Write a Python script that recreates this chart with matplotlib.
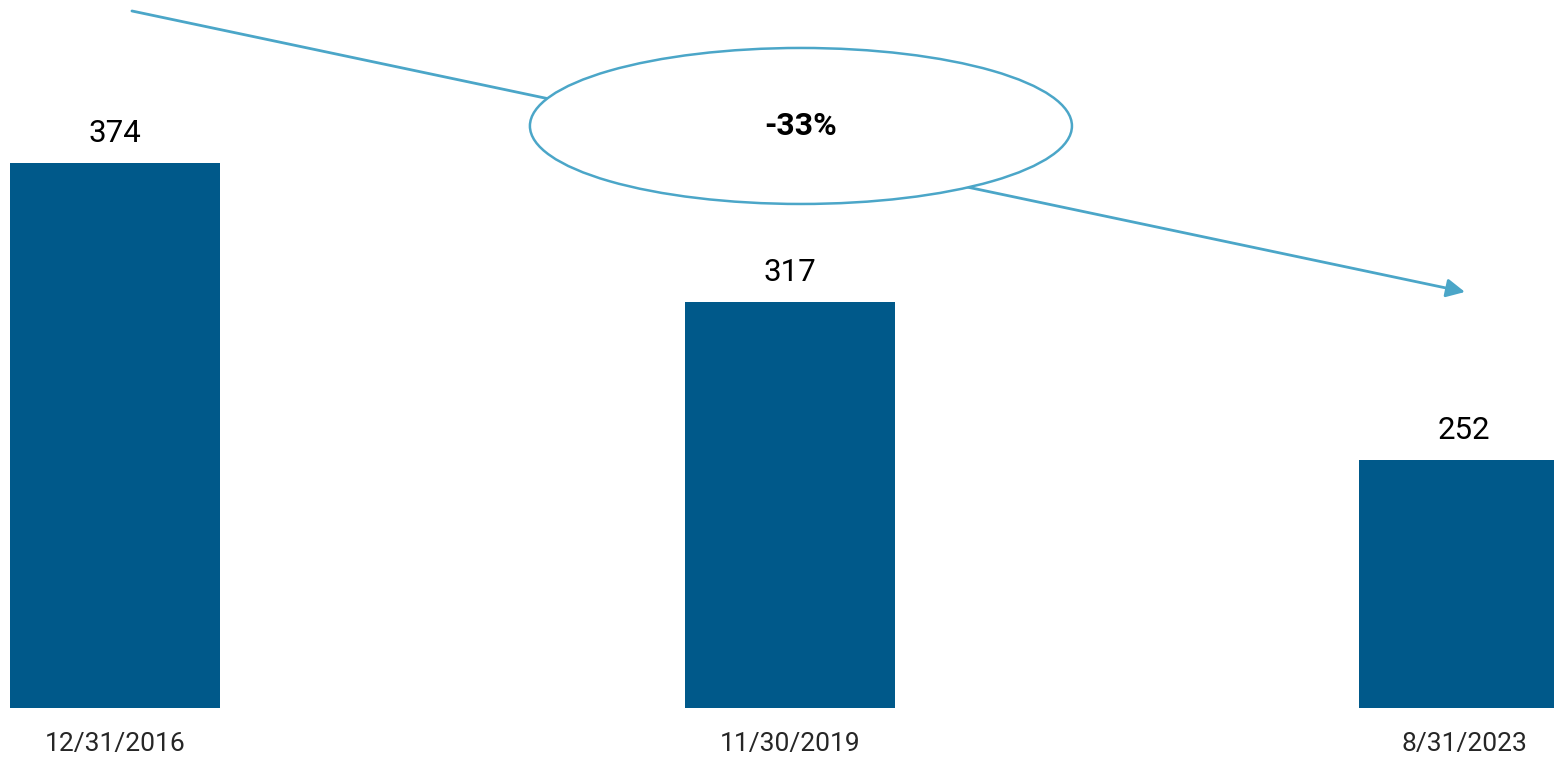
import matplotlib
matplotlib.use("Agg")
import numpy as np
import matplotlib.pyplot as plt
from matplotlib.patches import Ellipse, FancyArrowPatch

plt.rcParams['font.family'] = ['Roboto', 'DejaVu Sans']

dates = ['12/31/2016', '11/30/2019', '8/31/2023']
counts = [374, 317, 252]
change_label = '-33%'

bar_color = '#00598A'
accent = '#4BA6C8'

fig = plt.figure(figsize=(15.54, 7.57), dpi=100)
ax = fig.add_axes([0, 49 / 757, 1, 708 / 757])

x = np.arange(len(counts))
bars = ax.bar(x, counts, width=0.311, color=bar_color)

for rect, val in zip(bars, counts):
    ax.annotate(str(val), xy=(rect.get_x() + rect.get_width() / 2, val),
                xytext=(0, 21), textcoords='offset points',
                ha='center', va='center', fontsize=22.5, color='black')

ax.set_xlim(-0.1705, 2.133)
ax.set_ylim(150, 441)
ax.set_xticks(x)
ax.set_xticklabels(dates, fontsize=19, color='#262626')
ax.tick_params(axis='x', length=0, pad=17)
ax.set_yticks([])
for s in ax.spines.values():
    s.set_visible(False)

# trend arrow running behind the percentage bubble
arrow = FancyArrowPatch((0.0849, 0.9855), (0.9427, 0.6143),
                        transform=fig.transFigure, arrowstyle='-|>',
                        mutation_scale=28, shrinkA=0, shrinkB=0,
                        color=accent, lw=2, zorder=3)
fig.add_artist(arrow)

bubble = Ellipse((0.5154, 0.8336), 0.3488, 0.2061, transform=fig.transFigure,
                 facecolor='white', edgecolor=accent, lw=1.8, zorder=4)
fig.add_artist(bubble)
fig.text(0.5154, 0.8336, change_label, ha='center', va='center',
         fontsize=23, fontweight='bold', color='black', zorder=5)

fig.savefig('out.png', dpi=100, facecolor='white')
